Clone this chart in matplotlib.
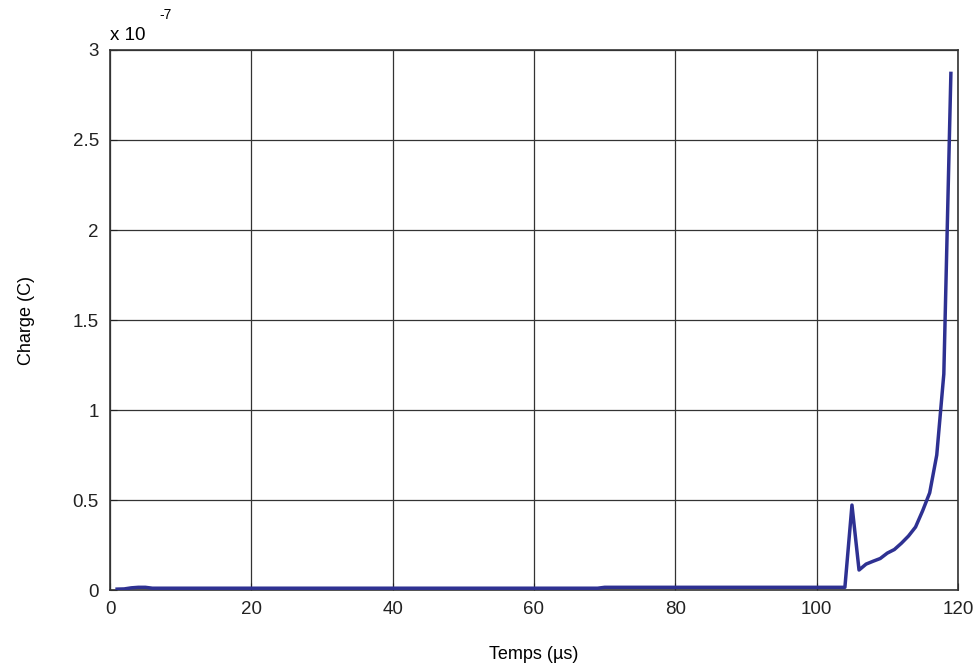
import matplotlib
matplotlib.use("Agg")
import matplotlib.pyplot as plt

plt.rcParams['font.family'] = ['Liberation Sans', 'DejaVu Sans']

# time in microseconds, charge in units of 1e-7 C
temps = [1, 2, 3, 4, 5, 6, 69, 70, 104, 105, 106, 107, 108, 109, 110,
         111, 112, 113, 114, 115, 116, 117, 118, 119]
charge = [0.005, 0.006, 0.012, 0.015, 0.015, 0.01, 0.01, 0.015, 0.015, 0.472,
          0.111, 0.144, 0.16, 0.175, 0.205, 0.225, 0.26, 0.30, 0.35, 0.44,
          0.54, 0.75, 1.2, 2.87]

xticks = [0, 20, 40, 60, 80, 100, 120]
yticks = [0, 0.5, 1, 1.5, 2, 2.5, 3]
ytick_labels = ['0', '0.5', '1', '1.5', '2', '2.5', '3']

fig = plt.figure(figsize=(9.78, 6.72), dpi=100)
ax = fig.add_axes([0.1125, 0.122, 0.867, 0.8036])

ax.plot(temps, charge, color='#2e3192', linewidth=2.5, zorder=3)

ax.set_xlim(0, 120)
ax.set_ylim(0, 3)
ax.set_xticks(xticks)
ax.set_yticks(yticks)
ax.set_yticklabels(ytick_labels)
ax.tick_params(direction='in', labelsize=13.5, colors='#222222', length=5, pad=8)
ax.grid(True, color='#333333', linewidth=0.9, linestyle='-')
for s in ax.spines.values():
    s.set_color('#333333')
    s.set_linewidth(1.2)

ax.set_xlabel('Temps (µs)', fontsize=13, labelpad=20)
ax.set_ylabel('Charge (C)', fontsize=13, labelpad=27)

fig.text(110 / 978, 1 - 35 / 672, 'x 10', fontsize=13.5, va='center', ha='left')
fig.text(159 / 978, 1 - 15 / 672, '-7', fontsize=10, va='center', ha='left')

fig.savefig('out.png', dpi=100)
